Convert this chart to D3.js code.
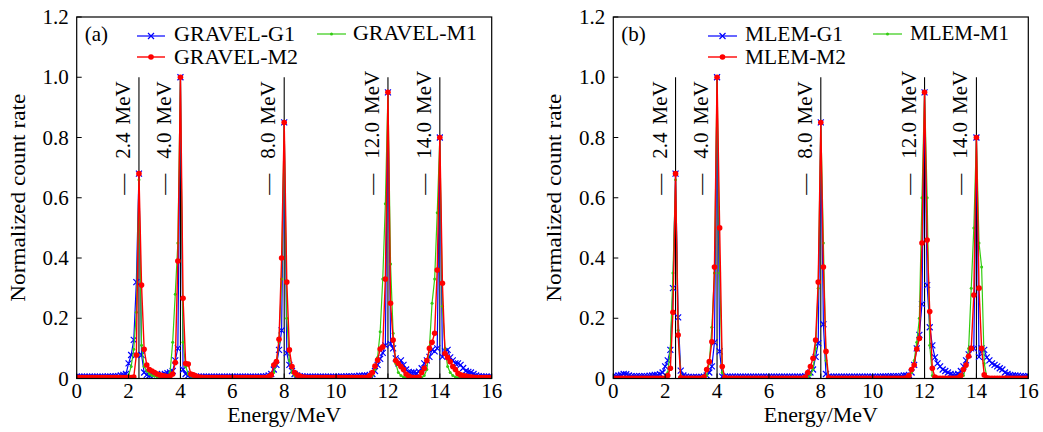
<!DOCTYPE html>
<html><head><meta charset="utf-8">
<script src="https://cdn.jsdelivr.net/npm/d3@7"></script>
<style>body{margin:0;background:#fff}</style>
</head><body>
<svg id="c" width="1043" height="432"></svg>
<script>
// ---------- data ----------
const energyGrid = d3.range(0, 161).map(i => i / 10); // 0.0 .. 16.0 MeV bins
const xTicks = [0, 2, 4, 6, 8, 10, 12, 14, 16];
const yTicks = [0, 0.2, 0.4, 0.6, 0.8, 1.0, 1.2];
const yTickLabels = ["0", "0.2", "0.4", "0.6", "0.8", "1.0", "1.2"];
const peakEnergies = [2.4, 4.0, 8.0, 12.0, 14.0];
const peakLabels = ["2.4 MeV", "4.0 MeV", "8.0 MeV", "12.0 MeV", "14.0 MeV"];
const namesA = ["GRAVEL-G1", "GRAVEL-M1", "GRAVEL-M2"];
const namesB = ["MLEM-G1", "MLEM-M1", "MLEM-M2"];

const aG1 = [
.006,.006,.006,.006,.006,.006,.006,.006,.006,.006,
.006,.006,.007,.006,.007,.008,.008,.01,.012,.015,
.05,.078,.128,.32,.68,.078,.02,.012,.01,.015,
.012,.015,.01,.012,.015,.018,.02,.025,.06,.1,
1.0,.03,.015,.01,.008,.007,.006,.006,.006,.006,
.006,.006,.006,.006,.006,.006,.006,.006,.006,.006,
.006,.006,.006,.006,.006,.006,.006,.006,.006,.006,
.006,.006,.007,.008,.01,.015,.03,.045,.095,.16,
.85,.084,.045,.025,.015,.01,.008,.007,.006,.006,
.006,.006,.006,.006,.006,.006,.006,.006,.006,.006,
.006,.006,.007,.006,.007,.008,.007,.008,.008,.009,
.009,.01,.01,.012,.015,.025,.045,.065,.085,.11,
.95,.115,.1,.067,.05,.06,.045,.03,.022,.02,
.02,.018,.023,.034,.05,.06,.072,.095,.09,.1,
.8,.072,.09,.095,.07,.06,.05,.05,.045,.035,
.025,.022,.02,.015,.01,.008,.007,.006,.006,.006,
.006];
const aM1 = [
.002,.002,.002,.002,.002,.002,.002,.002,.002,.002,
.002,.002,.002,.002,.002,.002,.002,.002,.003,.005,
.01,.04,.097,.22,.66,.11,.04,.025,.015,.01,
.008,.006,.005,.005,.005,.006,.02,.12,.28,.45,
1.0,.12,.04,.015,.008,.005,.003,.002,.002,.002,
.002,.002,.002,.002,.002,.002,.002,.002,.002,.002,
.002,.002,.002,.002,.002,.002,.002,.002,.002,.002,
.002,.002,.002,.002,.004,.008,.02,.05,.12,.33,
.85,.2,.06,.02,.01,.005,.003,.002,.002,.002,
.002,.002,.002,.002,.002,.002,.002,.002,.002,.002,
.002,.002,.002,.002,.002,.002,.002,.002,.002,.002,
.002,.002,.003,.005,.01,.03,.07,.155,.33,.58,
.95,.38,.15,.05,.02,.01,.005,.003,.002,.002,
.002,.002,.002,.003,.01,.03,.105,.25,.33,.55,
.8,.24,.1,.04,.02,.01,.005,.003,.002,.002,
.002,.002,.002,.002,.002,.002,.002,.002,.002,.002,
.002];
const aM2 = [
.003,.003,.003,.003,.003,.003,.003,.003,.003,.003,
.003,.003,.003,.003,.003,.003,.003,.003,.003,.003,
.003,.003,.005,.078,.68,.31,.097,.045,.03,.025,
.02,.015,.012,.01,.008,.006,.008,.015,.053,.39,
1.0,.266,.05,.048,.015,.012,.008,.005,.004,.003,
.003,.003,.003,.003,.003,.003,.003,.003,.003,.003,
.003,.003,.003,.003,.003,.003,.003,.003,.003,.003,
.003,.003,.003,.003,.006,.012,.045,.056,.13,.4,
.85,.32,.095,.04,.02,.012,.008,.005,.004,.003,
.003,.003,.003,.003,.003,.003,.003,.003,.003,.003,
.003,.003,.003,.003,.003,.003,.003,.003,.003,.003,
.003,.003,.004,.01,.02,.041,.061,.098,.105,.33,
.95,.25,.128,.06,.05,.04,.03,.015,.008,.004,
.003,.003,.005,.02,.034,.06,.1,.12,.15,.36,
.8,.316,.083,.07,.056,.04,.03,.017,.012,.01,
.008,.006,.005,.004,.003,.003,.003,.003,.003,.003,
.003];
const bG1 = [
.008,.008,.01,.012,.015,.014,.01,.008,.008,.008,
.008,.008,.008,.008,.009,.01,.012,.012,.014,.02,
.04,.06,.095,.3,.68,.203,.026,.01,.006,.005,
.005,.005,.005,.005,.005,.006,.01,.02,.04,.12,
1.0,.09,.006,.006,.006,.006,.006,.006,.006,.006,
.006,.006,.006,.006,.006,.006,.006,.006,.006,.006,
.006,.006,.006,.006,.006,.006,.006,.006,.006,.006,
.006,.006,.006,.006,.008,.01,.02,.03,.072,.117,
.85,.18,.015,.006,.006,.006,.006,.006,.006,.006,
.006,.006,.006,.006,.006,.006,.006,.006,.006,.006,
.006,.006,.006,.006,.007,.007,.007,.008,.008,.008,
.008,.008,.01,.01,.012,.02,.045,.1,.145,.247,
.95,.31,.17,.11,.07,.05,.04,.03,.025,.02,
.015,.012,.012,.015,.025,.04,.06,.08,.1,.1,
.8,.072,.1,.095,.07,.06,.05,.045,.04,.034,
.03,.02,.015,.012,.01,.01,.009,.008,.008,.008,
.008];
const bM1 = [
.001,.001,.001,.001,.001,.001,.001,.001,.001,.001,
.001,.001,.001,.001,.001,.001,.001,.001,.002,.003,
.005,.02,.1,.35,.66,.16,.01,.002,.001,.001,
.001,.001,.001,.001,.001,.003,.01,.05,.17,.35,
1.0,.35,.02,.002,.001,.001,.001,.001,.001,.001,
.001,.001,.001,.001,.001,.001,.001,.001,.001,.001,
.001,.001,.001,.001,.001,.001,.001,.001,.001,.001,
.001,.001,.001,.001,.002,.005,.012,.03,.1,.3,
.85,.45,.06,.005,.001,.001,.001,.001,.001,.001,
.001,.001,.001,.001,.001,.001,.001,.001,.001,.001,
.001,.001,.001,.001,.001,.001,.001,.001,.001,.001,
.001,.001,.001,.002,.005,.02,.06,.12,.2,.6,
.95,.6,.11,.01,.002,.001,.001,.001,.001,.001,
.001,.001,.001,.001,.003,.01,.04,.1,.3,.5,
.8,.45,.37,.05,.005,.002,.001,.001,.001,.001,
.001,.001,.001,.001,.001,.001,.001,.001,.001,.001,
.001];
const bM2 = [
.001,.001,.001,.001,.001,.001,.001,.001,.001,.001,
.001,.001,.001,.001,.001,.001,.001,.001,.001,.001,
.001,.01,.034,.22,.68,.144,.002,.001,.001,.001,
.001,.001,.001,.001,.001,.005,.03,.056,.122,.37,
1.0,.5,.04,.003,.001,.001,.001,.001,.001,.001,
.001,.001,.001,.001,.001,.001,.001,.001,.001,.001,
.001,.001,.001,.001,.001,.001,.001,.001,.001,.001,
.001,.001,.001,.001,.005,.02,.04,.067,.128,.32,
.85,.37,.09,.002,.001,.001,.001,.001,.001,.001,
.001,.001,.001,.001,.001,.001,.001,.001,.001,.001,
.001,.001,.001,.001,.001,.001,.001,.001,.001,.001,
.001,.001,.001,.002,.01,.03,.045,.098,.133,.45,
.95,.46,.222,.034,.005,.001,.001,.001,.001,.001,
.001,.001,.001,.002,.01,.03,.045,.074,.1,.277,
.8,.3,.1,.012,.002,.001,.001,.001,.001,.001,
.001,.001,.001,.001,.001,.001,.001,.001,.001,.001,
.001];

// ---------- layout / style ----------
const FONT = "'Liberation Serif','Times New Roman',serif";
const FS = 21;
const plotTop = 17, plotBottom = 378.5, plotW = 415;
const styles = [
  {color: "#0000ff", marker: "x", width: 1.2},
  {color: "#33cc11", marker: "dot", width: 1.2},
  {color: "#ff0000", marker: "circle", width: 1.4}
];
const panels = [
  {left: 76.7, tag: "(a)", names: namesA, series: [aG1, aM1, aM2],
   leg: [{x1: 60.3, x2: 88.3, tx: 97.3, ly: 36, ty: 40.5, len: 121},
         {x1: 240.3, x2: 269.3, tx: 276.3, ly: 34, ty: 40, len: 124},
         {x1: 60.3, x2: 88.3, tx: 97.3, ly: 57, ty: 64, len: 124}]},
  {left: 613.3, tag: "(b)", names: namesB, series: [bG1, bM1, bM2],
   leg: [{x1: 94.7, x2: 123.7, tx: 131.7, ly: 36, ty: 40.5, len: 98},
         {x1: 259.7, x2: 288.7, tx: 296.7, ly: 34, ty: 40, len: 99},
         {x1: 94.7, x2: 123.7, tx: 131.7, ly: 57, ty: 64, len: 101}]}
];

const svg = d3.select("#c");

function drawMarker(g, kind, pts, color) {
  if (kind === "x") {
    g.selectAll("path.mk").data(pts).join("path")
      .attr("d", p => `M${p[0]-3},${p[1]-3}L${p[0]+3},${p[1]+3}M${p[0]-3},${p[1]+3}L${p[0]+3},${p[1]-3}`)
      .attr("stroke", color).attr("stroke-width", 1.2).attr("fill", "none");
  } else {
    g.selectAll("circle.mk").data(pts).join("circle")
      .attr("cx", p => p[0]).attr("cy", p => p[1])
      .attr("r", kind === "circle" ? 2.8 : 1.5)
      .attr("fill", color);
  }
}

panels.forEach((P, pi) => {
  const x = d3.scaleLinear().domain([0, 16]).range([P.left, P.left + plotW]);
  const y = d3.scaleLinear().domain([0, 1.2]).range([plotBottom, plotTop]);
  const g = svg.append("g");
  const clipId = "clip" + pi;
  svg.append("clipPath").attr("id", clipId).append("rect")
    .attr("x", P.left).attr("y", plotTop).attr("width", plotW).attr("height", plotBottom - plotTop);

  // reference lines for true energies
  g.selectAll("line.ref").data(peakEnergies).join("line")
    .attr("x1", d => x(d)).attr("x2", d => x(d))
    .attr("y1", y(0)).attr("y2", y(1.0))
    .attr("stroke", "#000").attr("stroke-width", 1.1);

  // series
  const dataG = g.append("g").attr("clip-path", `url(#${clipId})`);
  P.series.forEach((vals, si) => {
    const st = styles[si];
    const pts = energyGrid.map((e, i) => [x(e), y(vals[i])]);
    const sg = dataG.append("g");
    sg.append("path").attr("d", d3.line()(pts))
      .attr("fill", "none").attr("stroke", st.color).attr("stroke-width", st.width)
      .attr("stroke-linejoin", "round");
    drawMarker(sg, st.marker, pts, st.color);
  });

  // peak annotations: "—  2.4 MeV" rotated, reading upward
  peakEnergies.forEach((e, k) => {
    const tx = x(e) - 9, ty = y(0.61);
    const parts = peakLabels[k].split(" ");
    const t = g.append("text")
      .attr("transform", `translate(${tx},${ty}) rotate(-90)`)
      .attr("font-family", FONT).attr("font-size", FS).attr("fill", "#000");
    t.append("tspan").text("\u2014");
    t.append("tspan").attr("dx", 15).text(parts[0]);
    t.append("tspan").attr("dx", 8).text(parts[1]);
  });

  // frame
  g.append("rect").attr("x", P.left).attr("y", plotTop)
    .attr("width", plotW).attr("height", plotBottom - plotTop)
    .attr("fill", "none").attr("stroke", "#000").attr("stroke-width", 1.2);

  // ticks (inward)
  g.selectAll("line.xt").data(xTicks).join("line")
    .attr("x1", d => x(d)).attr("x2", d => x(d))
    .attr("y1", plotBottom).attr("y2", plotBottom - 5)
    .attr("stroke", "#000").attr("stroke-width", 1);
  g.selectAll("line.yt").data(yTicks).join("line")
    .attr("x1", P.left).attr("x2", P.left + 5)
    .attr("y1", d => y(d)).attr("y2", d => y(d))
    .attr("stroke", "#000").attr("stroke-width", 1);

  g.selectAll("text.xl").data(xTicks).join("text")
    .attr("x", d => x(d)).attr("y", 398)
    .attr("text-anchor", "middle")
    .attr("font-family", FONT).attr("font-size", FS).text(d => d);
  g.selectAll("text.yl").data(yTicks).join("text")
    .attr("x", P.left - 8).attr("y", d => y(d) + 7)
    .attr("text-anchor", "end")
    .attr("font-family", FONT).attr("font-size", FS).text((d, i) => yTickLabels[i]);

  // axis titles
  g.append("text").attr("x", P.left + plotW / 2).attr("y", 422)
    .attr("text-anchor", "middle").attr("font-family", FONT).attr("font-size", FS)
    .attr("textLength", 114).attr("lengthAdjust", "spacingAndGlyphs")
    .text("Energy/MeV");
  g.append("text")
    .attr("transform", `translate(${P.left - 52},${(plotTop + plotBottom) / 2}) rotate(-90)`)
    .attr("text-anchor", "middle").attr("font-family", FONT).attr("font-size", FS)
    .attr("textLength", 208).attr("lengthAdjust", "spacingAndGlyphs")
    .text("Normalized count rate");

  // panel tag
  g.append("text").attr("x", P.left + 8).attr("y", 41)
    .attr("font-family", FONT).attr("font-size", FS).text(P.tag);

  // legend
  P.leg.forEach((L, si) => {
    const st = styles[si];
    const lg = g.append("g");
    lg.append("line").attr("x1", P.left + L.x1).attr("x2", P.left + L.x2)
      .attr("y1", L.ly).attr("y2", L.ly)
      .attr("stroke", st.color).attr("stroke-width", st.width);
    drawMarker(lg, st.marker, [[P.left + (L.x1 + L.x2) / 2, L.ly]], st.color);
    lg.append("text").attr("x", P.left + L.tx).attr("y", L.ty)
      .attr("font-family", FONT).attr("font-size", FS)
      .attr("textLength", L.len).attr("lengthAdjust", "spacingAndGlyphs")
      .text(P.names[si]);
  });
});
</script>
</body></html>
